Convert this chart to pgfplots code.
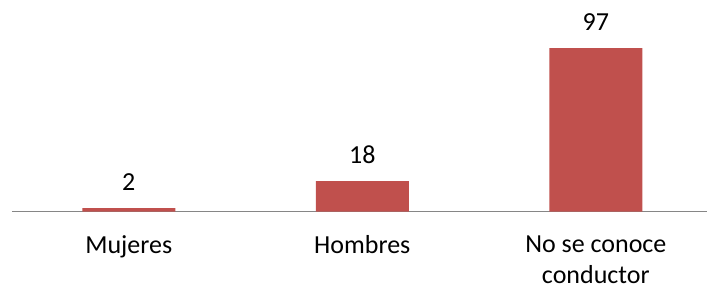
\documentclass[border=0pt]{standalone}
\usepackage{pgfplots}
\pgfplotsset{compat=1.18}
\usepackage{fontspec}
\setmainfont{Carlito}
\definecolor{barred}{RGB}{192,80,77}
\definecolor{axgray}{RGB}{134,134,134}
\begin{document}
\begin{tikzpicture}
\begin{axis}[
  scale only axis,
  width=347.5pt, height=105.75pt,
  xmin=-0.5, xmax=2.476,
  ymin=0, ymax=125.5,
  axis x line*=bottom,
  hide y axis,
  x axis line style={-, draw=axgray, line width=0.75pt},
  xtick=data,
  xticklabels={Mujeres, Hombres, {No se conoce\\conductor}},
  x tick label style={align=center, font=\fontsize{13}{15.6}\selectfont, yshift=-8.5pt},
  major tick length=0pt,
  /pgf/number format/assume math mode=true,
  ybar, bar width=46.5pt,
  nodes near coords,
  every node near coord/.append style={font=\fontsize{13}{15}\selectfont, anchor=center, yshift=13pt, text=black},
  clip=false,
]
\addplot[fill=barred, draw=none] coordinates {(0,2) (1,18) (2,97)};
\coordinate (sw) at (rel axis cs:0,0);
\end{axis}
\pgfresetboundingbox
\path[use as bounding box] (sw) ++(-6pt,-39.75pt) rectangle ++(353.5pt,145.5pt);
\end{tikzpicture}
\end{document}
